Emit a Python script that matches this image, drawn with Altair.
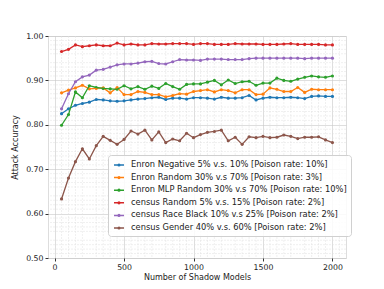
import altair as alt
import pandas as pd

shadow_models = list(range(50, 2001, 50))

series_names = [
    "Enron Negative 5% v.s. 10% [Poison rate: 10%]",
    "Enron Random 30% v.s 70% [Poison rate: 3%]",
    "Enron MLP Random 30% v.s 70% [Poison rate: 10%]",
    "census Random 5% v.s. 15% [Poison rate: 2%]",
    "census Race Black 10% v.s 25% [Poison rate: 2%]",
    "census Gender 40% v.s. 60% [Poison rate: 2%]",
]
series_colors = ["#1f77b4", "#ff7f0e", "#2ca02c", "#d62728", "#9467bd", "#8c564b"]

enron_negative = [0.825, 0.836, 0.844, 0.848, 0.851, 0.857, 0.856, 0.854, 0.853, 0.854,
                  0.856, 0.858, 0.859, 0.861, 0.862, 0.857, 0.860, 0.860, 0.858, 0.861,
                  0.861, 0.860, 0.858, 0.862, 0.860, 0.860, 0.861, 0.866, 0.856, 0.860,
                  0.862, 0.861, 0.861, 0.862, 0.861, 0.859, 0.864, 0.865, 0.864, 0.864]
enron_random = [0.872, 0.878, 0.883, 0.889, 0.881, 0.882, 0.883, 0.872, 0.884, 0.868,
                0.868, 0.875, 0.873, 0.868, 0.868, 0.863, 0.866, 0.870, 0.869, 0.875,
                0.877, 0.879, 0.874, 0.879, 0.877, 0.872, 0.879, 0.879, 0.868, 0.869,
                0.883, 0.880, 0.875, 0.875, 0.884, 0.873, 0.880, 0.879, 0.879, 0.879]
enron_mlp = [0.799, 0.823, 0.874, 0.861, 0.888, 0.884, 0.882, 0.881, 0.880, 0.888,
             0.881, 0.886, 0.880, 0.887, 0.882, 0.893, 0.886, 0.880, 0.891, 0.892,
             0.892, 0.896, 0.900, 0.890, 0.901, 0.893, 0.897, 0.898, 0.889, 0.894,
             0.894, 0.905, 0.900, 0.898, 0.903, 0.907, 0.910, 0.908, 0.907, 0.910]
census_random = [0.965, 0.970, 0.980, 0.976, 0.978, 0.980, 0.978, 0.978, 0.984, 0.980,
                 0.982, 0.980, 0.980, 0.983, 0.982, 0.982, 0.983, 0.983, 0.983, 0.981,
                 0.983, 0.983, 0.981, 0.981, 0.981, 0.983, 0.982, 0.982, 0.982, 0.981,
                 0.981, 0.981, 0.982, 0.983, 0.981, 0.981, 0.981, 0.981, 0.980, 0.980]
census_race = [0.836, 0.870, 0.897, 0.908, 0.912, 0.923, 0.925, 0.930, 0.935, 0.937,
               0.937, 0.939, 0.942, 0.943, 0.938, 0.937, 0.942, 0.947, 0.946, 0.946,
               0.945, 0.948, 0.948, 0.948, 0.947, 0.947, 0.947, 0.949, 0.950, 0.950,
               0.950, 0.950, 0.950, 0.950, 0.950, 0.949, 0.950, 0.950, 0.950, 0.950]
census_gender = [0.633, 0.680, 0.717, 0.746, 0.723, 0.753, 0.774, 0.765, 0.756, 0.767,
                 0.786, 0.779, 0.788, 0.766, 0.784, 0.760, 0.768, 0.764, 0.781, 0.771,
                 0.778, 0.783, 0.785, 0.788, 0.764, 0.772, 0.756, 0.773, 0.771, 0.774,
                 0.771, 0.772, 0.777, 0.774, 0.769, 0.772, 0.772, 0.773, 0.766, 0.760]

x_ticks = [0, 250, 500, 750, 1000, 1250, 1500, 1750, 2000]
y_ticks = [0.50, 0.55, 0.60, 0.65, 0.70, 0.75, 0.80, 0.85, 0.90, 0.95, 1.00]
x_minor = [v for v in range(0, 2051, 50) if v % 250 != 0]
y_minor = [round(0.50 + i * 0.01, 2) for i in range(51) if i % 5 != 0]

all_series = [enron_negative, enron_random, enron_mlp, census_random, census_race, census_gender]
rows = []
for name, vals in zip(series_names, all_series):
    for x, v in zip(shadow_models, vals):
        rows.append({"models": x, "acc": v, "series": name})
df = pd.DataFrame(rows)

xscale = alt.Scale(domain=[-47.5, 2097.5], nice=False, zero=False)
yscale = alt.Scale(domain=[0.5, 1.0], nice=False, zero=False)

font = "DejaVu Sans"

xminor_df = pd.DataFrame({"v": x_minor})
yminor_df = pd.DataFrame({"v": y_minor})

minor_x = alt.Chart(xminor_df).mark_rule(color="#e0e0e0", strokeWidth=0.5, strokeDash=[2, 1]).encode(
    x=alt.X("v:Q", scale=xscale)
)
minor_y = alt.Chart(yminor_df).mark_rule(color="#e0e0e0", strokeWidth=0.5, strokeDash=[2, 1]).encode(
    y=alt.Y("v:Q", scale=yscale)
)

color = alt.Color(
    "series:N",
    scale=alt.Scale(domain=series_names, range=series_colors),
    legend=alt.Legend(
        title=None,
        orient="none",
        legendX=60,
        legendY=119,
        symbolType="M-1,0H1M-0.17,0a0.17,0.17 0 1,0 0.34,0a0.17,0.17 0 1,0 -0.34,0",
        symbolSize=100,
        symbolStrokeWidth=1.5,
        labelFont=font,
        labelFontSize=8.3,
        labelColor="#222",
        rowPadding=2.6,
        padding=4,
        strokeColor="#d0d0d0",
        fillColor="rgba(255,255,255,0.85)",
        cornerRadius=3,
        labelLimit=400,
        labelOffset=6,
        symbolOffset=1,
    ),
)

base = alt.Chart(df)
points = base.mark_point(filled=True, size=10, opacity=1).encode(
    x=alt.X("models:Q", scale=xscale,
            axis=alt.Axis(values=x_ticks, title="Number of Shadow Models", format="d",
                          grid=True, gridColor="#c8c8c8", gridWidth=0.6,
                          labelFont=font, labelFontSize=7.8, titleFont=font, titleFontSize=8,
                          titleFontWeight="normal", labelColor="#222", titleColor="#222",
                          tickColor="#333", tickSize=3, domain=False, titlePadding=3, labelPadding=2)),
    y=alt.Y("acc:Q", scale=yscale,
            axis=alt.Axis(values=y_ticks, title="Attack Accuracy", format=".2f",
                          grid=True, gridColor="#c8c8c8", gridWidth=0.6,
                          labelFont=font, labelFontSize=7.8, titleFont=font, titleFontSize=8,
                          titleFontWeight="normal", labelColor="#222", titleColor="#222",
                          tickColor="#333", tickSize=3, domain=False, titlePadding=6, labelPadding=2)),
    color=color,
)
lines = base.mark_line(strokeWidth=1.3).encode(
    x=alt.X("models:Q", scale=xscale),
    y=alt.Y("acc:Q", scale=yscale),
    color=color,
)

chart = alt.layer(minor_x, minor_y, points, lines).properties(
    width=298,
    height=222,
    padding={"left": 40, "top": 28, "right": 30, "bottom": 30},
    autosize=alt.AutoSizeParams(type="none"),
).configure_view(stroke="#333", strokeWidth=0.8).configure(background="white")

chart.save("out.html", embed_options={"renderer": "svg", "actions": False})
